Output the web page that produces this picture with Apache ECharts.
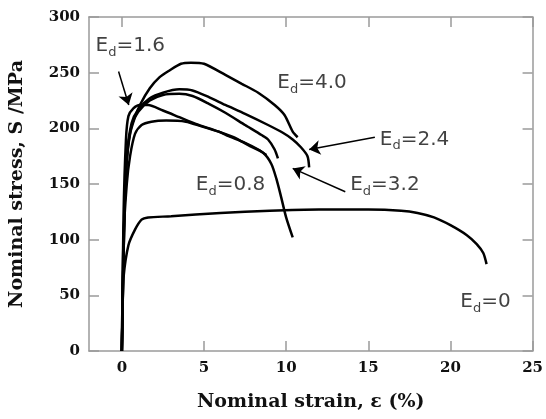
<!DOCTYPE html>
<html><head><meta charset="utf-8">
<script src="https://cdn.jsdelivr.net/npm/echarts@6/dist/echarts.min.js"></script>
<style>html,body{margin:0;padding:0;background:#fff}#c{width:546px;height:419px}</style>
</head><body><div id="c"></div>
<script>
// Tick values
const xTicks = [0, 5, 10, 15, 20, 25];
const yTicks = [0, 50, 100, 150, 200, 250, 300];
// Stress-strain curves [strain %, stress MPa]
const curveEd0 = [[0,0],[0.05,40],[0.1,66],[0.4,95],[0.8,109],[1.2,118],[1.6,120],[3,121],[6,124],[9,126],[12,127],[15,127],[17,126],[18,124],[19,120],[20,113],[21,104],[21.6,96],[22,88],[22.2,78]];
const curveEd08 = [[0,0],[0.1,100],[0.3,150],[0.5,175],[0.8,195],[1.2,203],[1.8,206],[2.7,207],[3.9,206],[4.8,202],[5.9,197],[6.8,192],[7.8,184],[8.6,178],[9.1,168],[9.4,155],[9.7,138],[10.0,120],[10.4,102]];
const curveEd16 = [[0,0],[0.1,120],[0.25,190],[0.4,211],[0.7,218],[1.1,221],[1.6,221],[2.5,216],[3.5,210],[4.5,204],[5.9,197],[6.5,193],[7.5,187],[8.3,181],[8.8,176]];
const curveEd24 = [[0,0],[0.15,120],[0.3,175],[0.6,205],[1.0,217],[1.7,227],[2.5,232],[3.5,235],[4.3,234],[5.3,228],[6.3,221],[7.5,213],[8.9,203],[9.8,196],[10.4,190],[10.9,183],[11.3,175],[11.4,165]];
const curveEd32 = [[0,0],[0.15,120],[0.3,172],[0.6,203],[1.0,215],[1.7,225],[2.5,230],[3.5,231],[4.3,229],[5.3,222],[6.3,214],[7.5,203],[8.5,194],[8.9,190],[9.3,181],[9.5,173]];
const curveEd40 = [[0,0],[0.15,120],[0.3,170],[0.5,195],[0.8,210],[1.1,221],[1.7,236],[2.3,246],[2.9,252],[3.6,258],[4.2,259],[5.0,258],[6.3,248],[7.3,240],[8.3,232],[9.3,221],[9.9,212],[10.4,197],[10.7,192]];
// Annotation labels [x, y, value text]
const annotations = [[-1.6,274,'1.6'],[9.46,241,'4.0'],[15.7,190,'2.4'],[13.9,149,'3.2'],[4.5,149,'0.8'],[20.6,44,'0']];
// Arrows [[from],[to]]
const arrows = [[[-0.2,251],[0.42,221]],[[15.4,192],[11.4,181]],[[13.6,143],[10.4,164]]];

const curves = [curveEd0, curveEd08, curveEd16, curveEd24, curveEd32, curveEd40];
const axisGrey = '#9a9a9a';
const tickFont = {fontFamily:'DejaVu Serif', fontWeight:'bold', fontSize:15, color:'#111'};

const chart = echarts.init(document.getElementById('c'), null, {renderer:'canvas'});
chart.setOption({
  animation:false,
  backgroundColor:'#fff',
  grid:{left:87, right:13, top:17, bottom:68},
  xAxis:[{
    type:'value', min:-2, max:25, position:'bottom',
    name:'Nominal strain, \u03b5 (%)', nameLocation:'middle', nameGap:42,
    nameTextStyle:{fontFamily:'DejaVu Serif', fontWeight:'bold', fontSize:19, color:'#111'},
    axisLine:{show:true, onZero:false, lineStyle:{color:axisGrey, width:1.5}},
    axisTick:{show:true, inside:true, length:10, customValues:xTicks, lineStyle:{color:axisGrey, width:1.5}},
    axisLabel:Object.assign({margin:10, customValues:xTicks}, tickFont),
    splitLine:{show:false}
  },{
    type:'value', min:-2, max:25, position:'top',
    axisLine:{show:true, onZero:false, lineStyle:{color:axisGrey, width:1.5}},
    axisTick:{show:true, inside:true, length:10, customValues:xTicks, lineStyle:{color:axisGrey, width:1.5}},
    axisLabel:{show:false}, splitLine:{show:false}
  }],
  yAxis:[{
    type:'value', min:0, max:300, interval:50, position:'left',
    name:'Nominal stress, S /MPa', nameLocation:'middle', nameGap:62, nameRotate:90,
    nameTextStyle:{fontFamily:'DejaVu Serif', fontWeight:'bold', fontSize:19, color:'#111'},
    axisLine:{show:true, onZero:false, lineStyle:{color:axisGrey, width:1.5}},
    axisTick:{show:true, inside:true, length:10, lineStyle:{color:axisGrey, width:1.5}},
    axisLabel:Object.assign({margin:9}, tickFont),
    splitLine:{show:false}
  },{
    type:'value', min:0, max:300, interval:50, position:'right',
    axisLine:{show:true, onZero:false, lineStyle:{color:axisGrey, width:1.5}},
    axisTick:{show:true, inside:true, length:10, lineStyle:{color:axisGrey, width:1.5}},
    axisLabel:{show:false}, splitLine:{show:false}
  }],
  series: curves.map(c => ({
    type:'line', data:c, symbol:'none', smooth:0.25, clip:false,
    lineStyle:{color:'#000', width:2.5}
  })).concat([{
    type:'scatter', data:annotations, symbolSize:0, silent:true,
    label:{show:true, position:'right', distance:0,
      formatter:p => '{e|E}{d|d}{e|=' + p.value[2] + '}',
      rich:{
        e:{fontFamily:'DejaVu Sans', fontSize:20, color:'#111'},
        d:{fontFamily:'DejaVu Sans', fontSize:13, color:'#111', padding:[13,0,0,0]}
      }}
  },{
    type:'lines', coordinateSystem:'cartesian2d', silent:true,
    symbol:['none','arrow'], symbolSize:[0,11],
    lineStyle:{color:'#000', width:1.5, opacity:1},
    data: arrows.map(a => ({coords:a}))
  }])
});
</script></body></html>
